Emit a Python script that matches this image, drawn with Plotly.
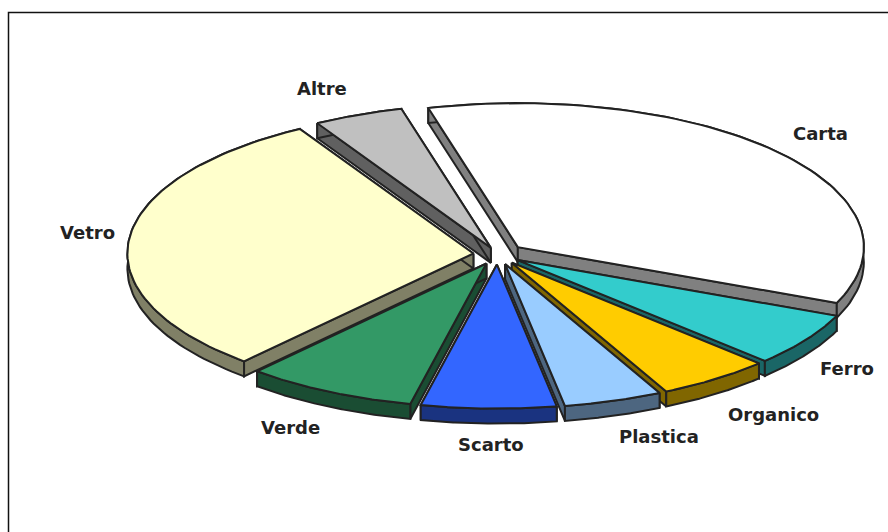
import numpy as np
import plotly.graph_objects as go

# --- data (percent shares) ---
categories = ["Carta", "Ferro", "Organico", "Plastica", "Scarto", "Verde", "Vetro", "Altre"]
shares = [35.5, 6.0, 5.3, 4.6, 6.3, 8.0, 30.1, 4.2]

# --- styles ---
top_colors = ["#FFFFFF", "#33CCCC", "#FFCC00", "#99CCFF", "#3366FF", "#339966", "#FFFFCC", "#C0C0C0"]
side_colors = ["#808080", "#1A6666", "#806600", "#4D6680", "#1A3380", "#1A4D33", "#808066", "#606060"]
explode = [0.078, 0.07, 0.07, 0.07, 0.07, 0.07, 0.07, 0.05]
label_pos = [(820, 133), (847, 368), (773, 414), (659, 436), (491, 444), (290, 427), (87, 232), (322, 88)]
paint_order = [7, 0, 6, 1, 5, 2, 4, 3]

CX, CY, RX, RY = 497.5, 254.5, 346, 144
DEPTH, START = 15, -15.0
INK = "#222222"

fig = go.Figure()

def poly(xs, ys, color):
    fig.add_trace(go.Scatter(x=xs, y=ys, mode="lines", fill="toself", fillcolor=color,
                             line=dict(color=INK, width=2), hoverinfo="skip", showlegend=False))

edges = START + np.cumsum([0] + shares) * 3.6
for i in paint_order:
    a0, a1 = np.radians(edges[i]), np.radians(edges[i + 1])
    mid = (a0 + a1) / 2
    ax = CX + explode[i] * RX * np.sin(mid)
    ay = CY - explode[i] * RY * np.cos(mid)
    t = np.linspace(a0, a1, 80)
    ox, oy = ax + RX * np.sin(t), ay - RY * np.cos(t)
    # radial walls
    for k in (0, -1):
        poly([ax, ox[k], ox[k], ax, ax], [ay, oy[k], oy[k] + DEPTH, ay + DEPTH, ay], side_colors[i])
    # rim
    poly(np.r_[ox, ox[::-1], ox[0]], np.r_[oy, oy[::-1] + DEPTH, oy[0]], side_colors[i])
    # top
    poly(np.r_[ax, ox, ax], np.r_[ay, oy, ay], top_colors[i])

# outer frame of the chart area
fig.add_trace(go.Scatter(x=[8.5, 8.5, 888], y=[532, 12.5, 12.5], mode="lines",
                         line=dict(color="#111111", width=1.5), hoverinfo="skip", showlegend=False))

for name, (lx, ly) in zip(categories, label_pos):
    fig.add_annotation(x=lx, y=ly, text=name, showarrow=False,
                       font=dict(family="DejaVu Sans", size=18, color=INK, weight="bold"))

fig.update_layout(width=888, height=532, margin=dict(l=0, r=0, t=0, b=0),
                  paper_bgcolor="white", plot_bgcolor="white", showlegend=False,
                  xaxis=dict(range=[0, 888], visible=False, fixedrange=True),
                  yaxis=dict(range=[532, 0], visible=False, fixedrange=True))

fig.write_html("out.html", config={"displayModeBar": False},
               post_script="document.body.style.margin='0';document.body.style.overflow='hidden';")
